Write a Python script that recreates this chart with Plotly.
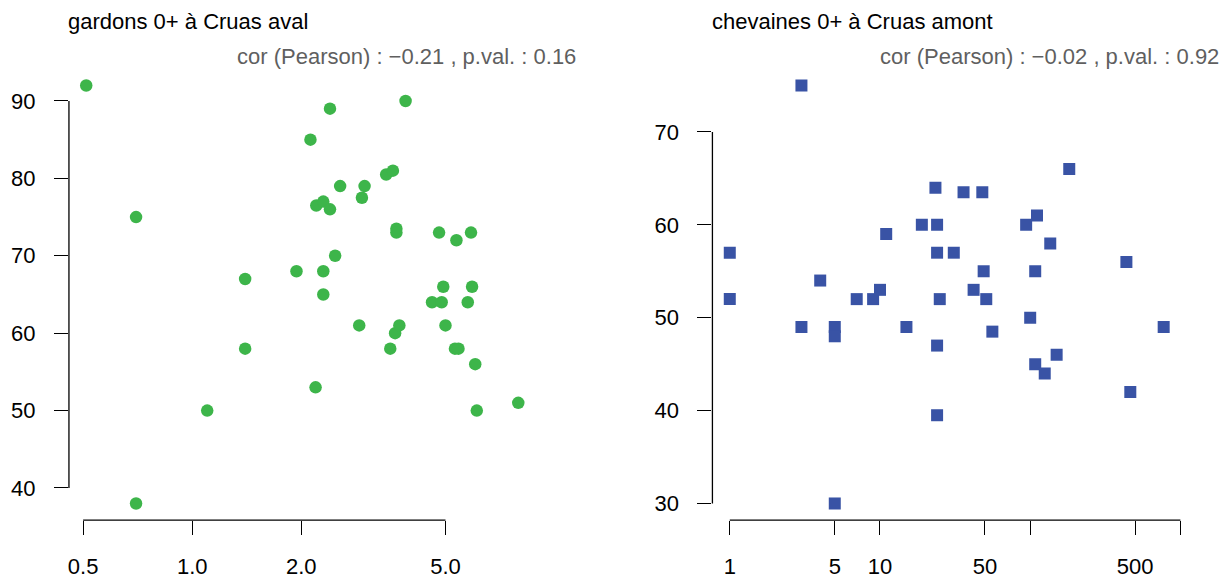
import numpy as np
import plotly.graph_objects as go

# ---- data: left panel (gardons 0+ à Cruas aval) ----
gardons_x = [0.51, 0.70, 0.70, 1.10, 1.40, 1.40, 1.94, 2.12, 2.19, 2.20,
             2.30, 2.30, 2.30, 2.40, 2.40, 2.48, 2.56, 2.89, 2.94, 2.99,
             3.43, 3.52, 3.58, 3.63, 3.66, 3.66, 3.73, 3.88, 4.59, 4.80,
             4.88, 4.93, 5.00, 5.31, 5.36, 5.43, 5.76, 5.88, 5.92, 6.04,
             6.10, 7.94]
gardons_y = [92, 75, 38, 50, 67, 58, 68, 85, 53, 76.5,
             77, 68, 65, 89, 76, 70, 79, 61, 77.5, 79,
             80.5, 58, 81, 60, 73.5, 73, 61, 90, 64, 73,
             64, 66, 61, 58, 72, 58, 64, 73, 66, 56,
             50, 51]

# ---- data: right panel (chevaines 0+ à Cruas amont) ----
chev_x = [1, 1, 3, 3, 4, 5, 5, 5, 7, 9,
          10, 11, 15, 19, 23.4, 24, 24, 24, 24, 25,
          31, 36, 42, 48, 49, 51, 56, 94, 100, 108,
          108, 111, 125, 136, 150, 182, 437, 464, 774]
chev_y = [57, 52, 75, 49, 54, 49, 48, 30, 52, 52,
          53, 59, 49, 60, 64, 60, 57, 47, 39.5, 52,
          57, 63.5, 53, 63.5, 55, 52, 48.5, 60, 50, 55,
          45, 61, 44, 58, 46, 66, 56, 42, 49]

left_xticks = [0.5, 1.0, 2.0, 5.0]
left_xticklabels = ["0.5", "1.0", "2.0", "5.0"]
left_yticks = [40, 50, 60, 70, 80, 90]
right_xticks = [1, 5, 10, 50, 100, 500, 1000]
right_xticklabels = ["1", "5", "10", "50", "", "500", ""]
right_yticks = [30, 40, 50, 60, 70]

titles = ["gardons 0+ à Cruas aval", "chevaines 0+ à Cruas amont"]
subtitles = ["cor (Pearson) : \u22120.21 , p.val. : 0.16",
             "cor (Pearson) : \u22120.02 , p.val. : 0.92"]

GREEN = "#3db54a"
BLUE = "#3953a5"
FONT = "Liberation Sans, Arial, Helvetica, sans-serif"
W, H = 1230, 579
FS = 22


def r_range(vals, log=False):
    v = np.log10(vals) if log else np.asarray(vals, dtype=float)
    lo, hi = float(np.min(v)), float(np.max(v))
    d = (hi - lo) * 0.04
    return [lo - d, hi + d]


fig = go.Figure()
fig.add_trace(go.Scatter(x=gardons_x, y=gardons_y, mode="markers",
                         marker=dict(symbol="circle", size=12.5, color=GREEN, line=dict(width=0)),
                         xaxis="x", yaxis="y", showlegend=False))
fig.add_trace(go.Scatter(x=chev_x, y=chev_y, mode="markers",
                         marker=dict(symbol="square", size=12, color=BLUE, line=dict(width=0)),
                         xaxis="x2", yaxis="y2", showlegend=False))

ydom = [1 - 522 / H, 1 - 69 / H]
axis_common = dict(showgrid=False, zeroline=False, showline=False, ticks="outside",
                   ticklen=14, tickwidth=1.3, tickcolor="black",
                   tickfont=dict(family=FONT, size=FS, color="black"))

fig.update_layout(
    width=W, height=H,
    margin=dict(l=0, r=0, t=0, b=0),
    plot_bgcolor="white", paper_bgcolor="white",
    xaxis=dict(type="log", domain=[68 / W, 535 / W], range=r_range(gardons_x, True),
               tickvals=left_xticks, ticktext=left_xticklabels, anchor="y",
               ticklabelstandoff=12, **axis_common),
    yaxis=dict(domain=ydom, range=r_range(gardons_y), tickvals=left_yticks,
               anchor="x", ticklabelstandoff=14, **axis_common),
    xaxis2=dict(type="log", domain=[712 / W, 1181 / W], range=r_range(chev_x, True),
                tickvals=right_xticks, ticktext=right_xticklabels, anchor="y2",
                ticklabelstandoff=12, **axis_common),
    yaxis2=dict(domain=ydom, range=r_range(chev_y), tickvals=right_yticks,
                anchor="x2", ticklabelstandoff=14, **axis_common),
)

# R-style axis lines spanning first to last tick
for xa, ya, xt, yt in [("x", "y", left_xticks, left_yticks),
                       ("x2", "y2", right_xticks, right_yticks)]:
    fig.add_shape(type="line", xref=xa, yref=ya + " domain",
                  x0=min(xt), x1=max(xt), y0=0, y1=0,
                  line=dict(color="black", width=1.3))
    fig.add_shape(type="line", xref=xa + " domain", yref=ya,
                  x0=0, x1=0, y0=min(yt), y1=max(yt),
                  line=dict(color="black", width=1.3))

# titles and correlation subtitles
for i, (xl, xr) in enumerate([(65, 577), (710, 1221)]):
    fig.add_annotation(text=titles[i], xref="paper", yref="paper",
                       x=xl / W, y=1 - 22 / H, xanchor="left", yanchor="middle",
                       showarrow=False, font=dict(family=FONT, size=FS, color="black"))
    fig.add_annotation(text=subtitles[i], xref="paper", yref="paper",
                       x=xr / W, y=1 - 57 / H, xanchor="right", yanchor="middle",
                       showarrow=False, font=dict(family=FONT, size=FS, color="#5f5f5f"))

fig.write_html("out.html", config={"displayModeBar": False},
               post_script="document.body.style.margin='0';document.body.style.padding='0';")
